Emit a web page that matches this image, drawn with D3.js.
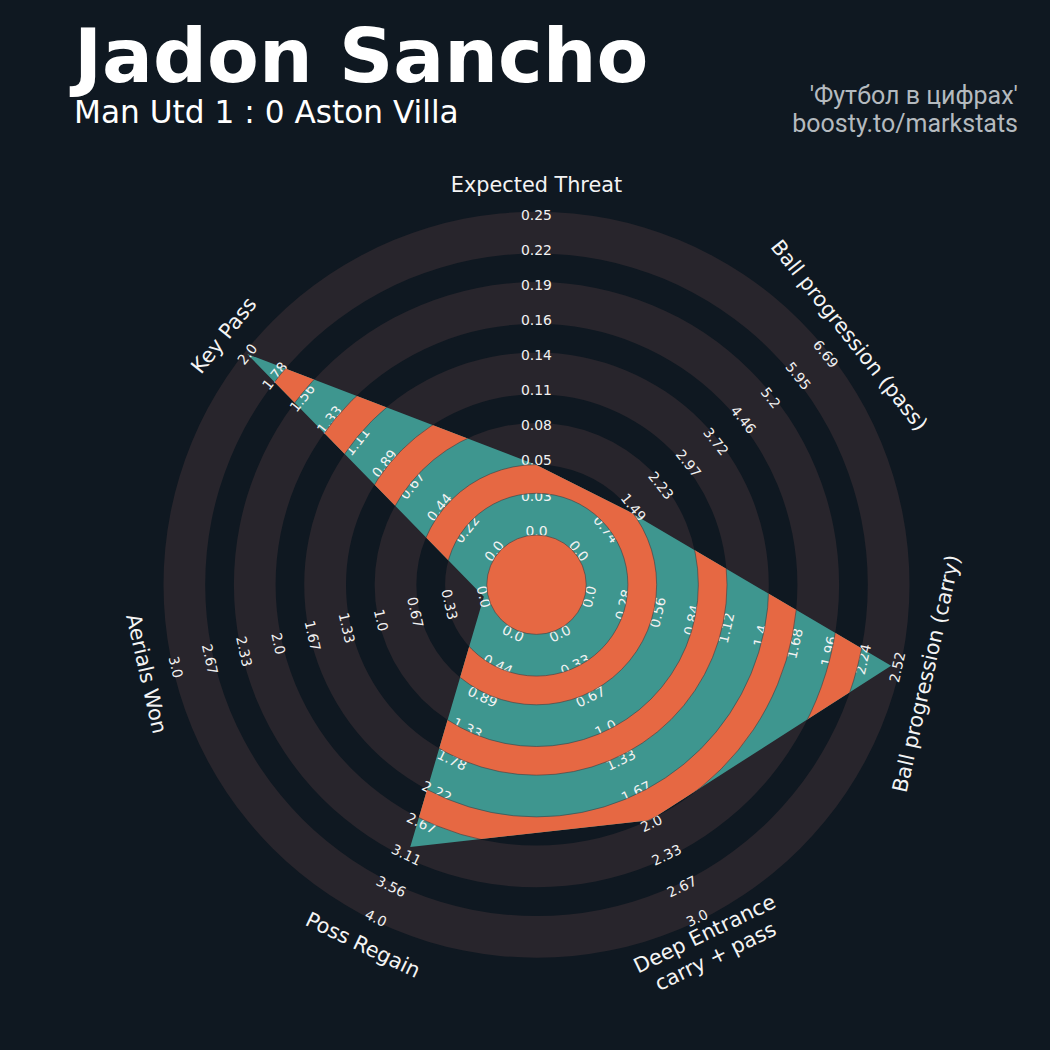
<!DOCTYPE html>
<html>
<head>
<meta charset="utf-8">
<script src="https://cdn.jsdelivr.net/npm/d3@7"></script>
<style>
  body { margin: 0; background: #0f1821; }
</style>
</head>
<body>
<div id="radar"></div>
<script>
// parameters, ranges and player values
const params = ["Expected Threat", "Ball progression (pass)", "Ball progression (carry)",
                "Deep Entrance\ncarry + pass", "Poss Regain", "Aerials Won", "Key Pass"];
const lowRange = [0, 0, 0, 0, 0, 0, 0];
const highRange = [0.25, 6.69, 2.52, 3.0, 4.0, 3.0, 2.0];
const values = [0.052, 1.35, 2.47, 1.97, 3.0, 0, 2.0];

// range labels written on each axis
const tickLabels = [
  ["0.0", "0.03", "0.05", "0.08", "0.11", "0.14", "0.16", "0.19", "0.22", "0.25"],
  ["0.0", "0.74", "1.49", "2.23", "2.97", "3.72", "4.46", "5.2", "5.95", "6.69"],
  ["0.0", "0.28", "0.56", "0.84", "1.12", "1.4", "1.68", "1.96", "2.24", "2.52"],
  ["0.0", "0.33", "0.67", "1.0", "1.33", "1.67", "2.0", "2.33", "2.67", "3.0"],
  ["0.0", "0.44", "0.89", "1.33", "1.78", "2.22", "2.67", "3.11", "3.56", "4.0"],
  ["0.0", "0.33", "0.67", "1.0", "1.33", "1.67", "2.0", "2.33", "2.67", "3.0"],
  ["0.0", "0.22", "0.44", "0.67", "0.89", "1.11", "1.33", "1.56", "1.78", "2.0"]
];

const title = "Jadon Sancho";
const subtitle = "Man Utd 1 : 0 Aston Villa";
const credits = ["'Футбол в цифрах'", "boosty.to/markstats"];

const width = 1050, height = 1050;
const cx = 536.5, cy = 584.7;
const bg = "#0f1821", ringColor = "#28252c", teal = "#3e968f", orange = "#e66843";
const innerR = 54, outerR = 370, labelR = 400;

// ring edges: center circle, then wide (grey) / narrow (dark) bands
const ringEdges = [49.7];
for (let i = 0; i < 9; i++) ringEdges.push(ringEdges[i] + (i % 2 === 0 ? 41.7 : 28.7));

const angles = params.map((d, i) => i * 2 * Math.PI / params.length);
const scales = params.map((d, i) => d3.scaleLinear()
  .domain([lowRange[i], highRange[i]])
  .range([innerR, outerR]));

// keep text upright
function textRotation(a) {
  let deg = a * 180 / Math.PI;
  if (deg > 90 && deg < 270) deg -= 180;
  else if (deg >= 270) deg -= 360;
  return deg;
}
function pos(a, r) { return [r * Math.sin(a), -r * Math.cos(a)]; }

let svg = d3.select("#radar").append("svg")
  .attr("width", width)
  .attr("height", height);

svg.append("rect").attr("width", width).attr("height", height).attr("fill", bg);

let g = svg.append("g").attr("transform", "translate(" + cx + "," + cy + ")");

const arc = d3.arc().startAngle(0).endAngle(2 * Math.PI);

// background rings
for (let i = 0; i < ringEdges.length - 1; i += 2) {
  g.append("path")
    .attr("d", arc({ innerRadius: ringEdges[i], outerRadius: ringEdges[i + 1] }))
    .attr("fill", ringColor);
}

// radar polygon
let radarLine = d3.lineRadial()
  .angle((d, i) => angles[i])
  .radius((d, i) => scales[i](d))
  .curve(d3.curveLinearClosed);

svg.append("clipPath").attr("id", "radarClip")
  .append("path")
  .attr("transform", "translate(" + cx + "," + cy + ")")
  .attr("d", radarLine(values));

g.append("path")
  .attr("d", radarLine(values))
  .attr("fill", teal);

// orange bands inside the polygon
let inner = svg.append("g").attr("clip-path", "url(#radarClip)")
  .append("g").attr("transform", "translate(" + cx + "," + cy + ")");

inner.append("circle").attr("r", ringEdges[0]).attr("fill", orange)
  .attr("stroke", "#3a3f44").attr("stroke-width", 0.6);
for (let i = 1; i < ringEdges.length - 1; i += 2) {
  inner.append("path")
    .attr("d", arc({ innerRadius: ringEdges[i], outerRadius: ringEdges[i + 1] }))
    .attr("fill", orange)
    .attr("stroke", "#3a3f44")
    .attr("stroke-width", 0.6);
}

// range labels
params.forEach((p, i) => {
  const a = angles[i];
  const rot = textRotation(a);
  tickLabels[i].forEach((t, k) => {
    const v = lowRange[i] + k * (highRange[i] - lowRange[i]) / (tickLabels[i].length - 1);
    const [x, y] = pos(a, scales[i](v));
    g.append("text")
      .attr("transform", "translate(" + x + "," + y + ") rotate(" + rot + ")")
      .attr("text-anchor", "middle")
      .attr("dominant-baseline", "central")
      .style("font-family", "DejaVu Sans")
      .style("font-size", "13.9px")
      .style("fill", "#f2f2f2")
      .text(t);
  });
});

// parameter names
params.forEach((p, i) => {
  const a = angles[i];
  const [x, y] = pos(a, labelR);
  const lines = p.split("\n");
  let txt = g.append("text")
    .attr("transform", "translate(" + x + "," + y + ") rotate(" + textRotation(a) + ")")
    .attr("text-anchor", "middle")
    .attr("dominant-baseline", "central")
    .style("font-family", "DejaVu Sans")
    .style("font-size", "20.8px")
    .style("fill", "#f4f4f4");
  lines.forEach((l, j) => {
    txt.append("tspan")
      .attr("x", 0)
      .attr("dy", j === 0 ? (-(lines.length - 1) * 0.6) + "em" : "1.2em")
      .text(l);
  });
});

// title block
svg.append("text")
  .attr("x", 74).attr("y", 82)
  .style("font-family", "DejaVu Sans")
  .style("font-weight", "bold")
  .style("font-size", "75.5px")
  .style("fill", "#ffffff")
  .text(title);

svg.append("text")
  .attr("x", 74).attr("y", 123)
  .style("font-family", "DejaVu Sans")
  .style("font-size", "31.2px")
  .style("fill", "#ffffff")
  .text(subtitle);

credits.forEach((c, i) => {
  svg.append("text")
    .attr("x", 1018).attr("y", 104 + i * 28)
    .attr("text-anchor", "end")
    .style("font-family", "Roboto")
    .style("font-size", "25px")
    .style("fill", "#b4babf")
    .text(c);
});
</script>
</body>
</html>
